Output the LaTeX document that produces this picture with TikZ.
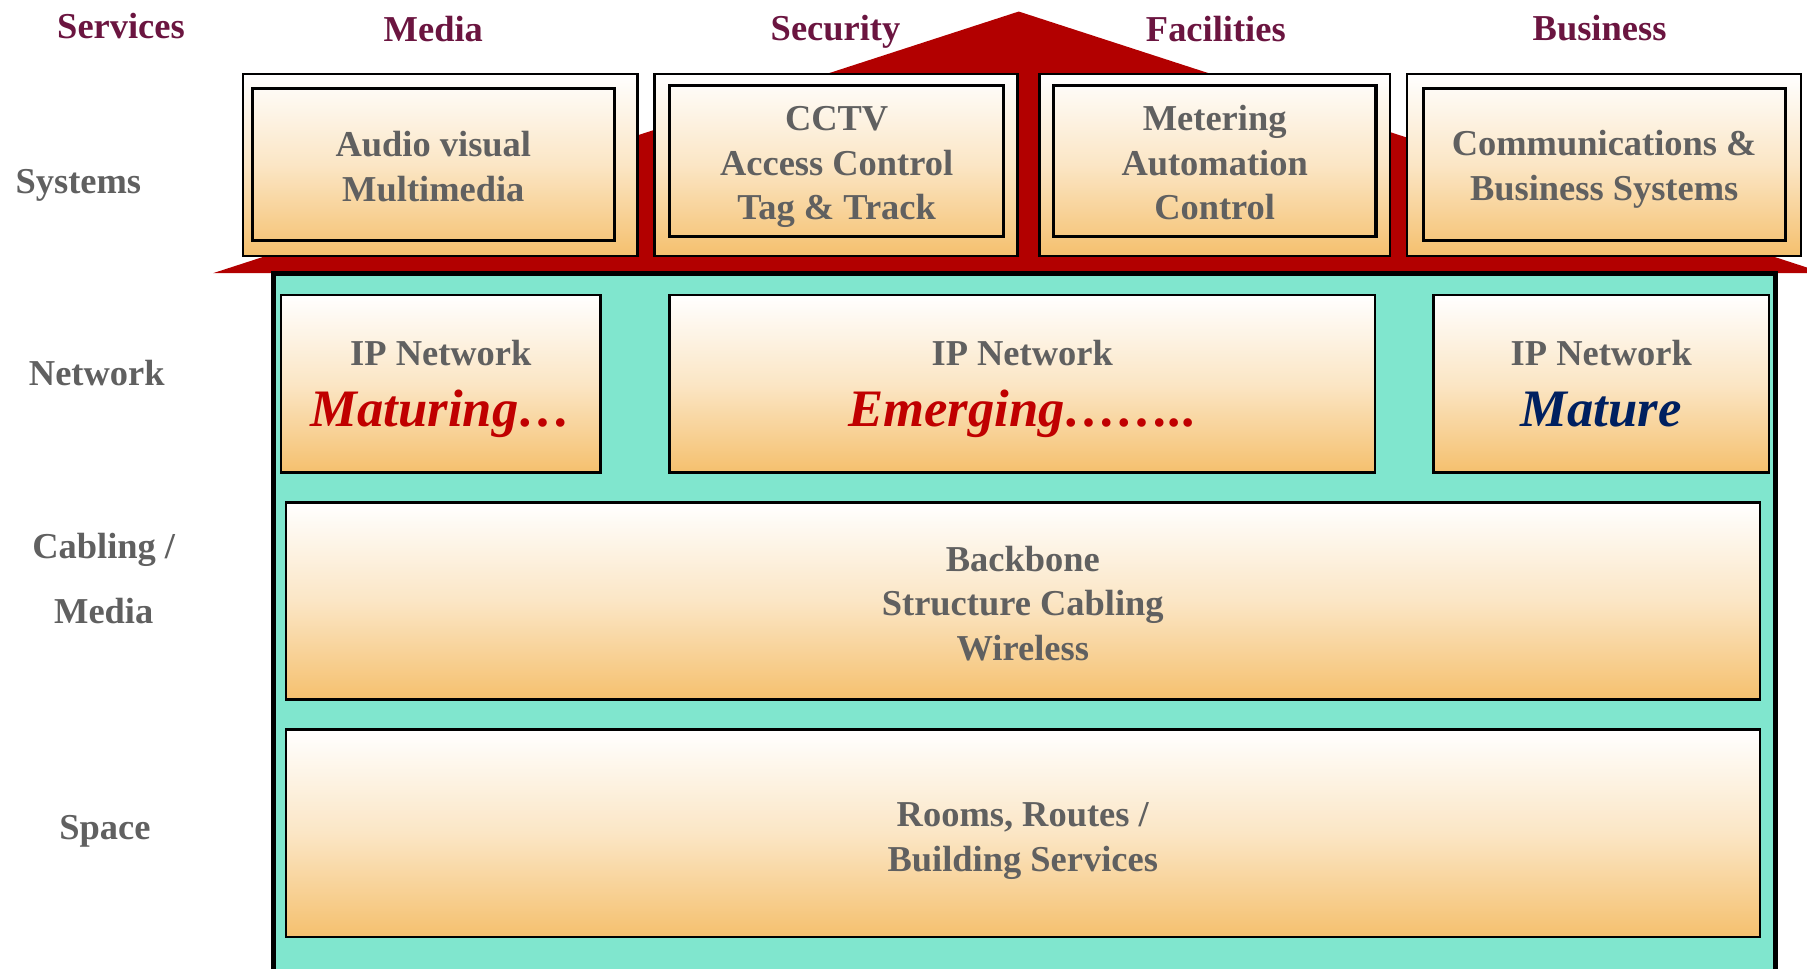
\documentclass[tikz,border=0pt]{standalone}
\usepackage{fontspec}
\setmainfont{Liberation Serif}
\usetikzlibrary{positioning}
\definecolor{roofred}{RGB}{178,0,0}
\definecolor{bodyteal}{RGB}{128,230,206}
\definecolor{boxorange}{RGB}{245,192,110}
\definecolor{greytxt}{RGB}{96,96,96}
\definecolor{svcred}{RGB}{107,21,64}
\definecolor{matred}{RGB}{192,0,0}
\definecolor{matblue}{RGB}{0,32,96}

\begin{document}
\begin{tikzpicture}[
  rowlbl/.style={font=\bfseries\fontsize{9}{16}\selectfont, text=greytxt, align=center},
  svclbl/.style={font=\bfseries\fontsize{9}{11}\selectfont, text=svcred},
  gradbox/.style={draw, line width=0.6pt, top color=white, bottom color=boxorange,
                  middle color=boxorange!40!white, inner sep=0pt},
  sysbox/.style={draw, line width=0.8pt, inner sep=0pt},
  boxtxt/.style={align=center, inner sep=0pt, font=\bfseries\fontsize{9}{11}\selectfont, text=greytxt},
  state/.style={anchor=base, inner sep=0pt, font=\bfseries\itshape\fontsize{13}{15}\selectfont}]
\useasboundingbox (0,0) rectangle (15.68,-8.40);

% roof and building
\fill[roofred] (8.84,-0.10) coordinate (apex) -- (1.85,-2.37) coordinate (eavel)
  -- (15.83,-2.37) coordinate (eaver) -- cycle;
\draw[fill=bodyteal, line width=1.2pt] (2.37,-2.37) rectangle (15.41,-8.60);

% services
\node[svclbl] (services) at (1.05,-0.23) {Services};
\node[svclbl] (smedia) at (3.76,-0.25) {Media};
\node[svclbl] (ssecurity) at (7.25,-0.28) {Security};
\node[svclbl] (sfacilities) at (10.55,-0.25) {Facilities};
\node[svclbl] (sbusiness) at (13.88,-0.24) {Business};

% layers
\node[rowlbl] (systems) at (0.68,-1.61) {Systems};
\node[rowlbl] (network) at (0.84,-3.24) {Network};
\node[rowlbl] (cabling) at (0.90,-5.02) {Cabling /\\Media};
\node[rowlbl] (space) at (0.91,-7.21) {Space};

% systems
\node[gradbox, minimum width=3.42cm, minimum height=1.58cm] (media) at (3.82,-1.43) {};
\node[sysbox, minimum width=3.14cm, minimum height=1.32cm] (avmm) at (3.76,-1.43) {};
\node[boxtxt] (avmmtxt) at (3.76,-1.445) {Audio visual\\Multimedia};
\node[gradbox, minimum width=3.15cm, minimum height=1.58cm] (security) at (7.255,-1.43) {};
\node[sysbox, minimum width=2.90cm, minimum height=1.31cm] (cctv) at (7.26,-1.395) {};
\node[boxtxt] (cctvtxt) at (7.26,-1.452) {CCTV\\Access Control\\Tag \& Track};
\node[gradbox, minimum width=3.04cm, minimum height=1.58cm] (facilities) at (10.54,-1.43) {};
\node[sysbox, minimum width=2.80cm, minimum height=1.31cm] (meter) at (10.54,-1.395) {};
\node[boxtxt] (metertxt) at (10.54,-1.412) {Metering\\Automation\\Control};
\node[gradbox, minimum width=3.42cm, minimum height=1.58cm] (business) at (13.92,-1.43) {};
\node[sysbox, minimum width=3.14cm, minimum height=1.32cm] (comms) at (13.92,-1.43) {};
\node[boxtxt] (commstxt) at (13.92,-1.47) {Communications \&\\Business Systems};

% network
\node[gradbox, minimum width=2.77cm, minimum height=1.54cm] (netl) at (3.825,-3.33) {};
\node[gradbox, minimum width=6.12cm, minimum height=1.54cm] (netm) at (8.87,-3.33) {};
\node[gradbox, minimum width=2.91cm, minimum height=1.54cm] (netr) at (13.895,-3.33) {};
\foreach \n/\x in {netl/3.825, netm/8.87, netr/13.895}
  \node[boxtxt, anchor=base] (\n ip) at (\x,-3.175) {IP Network};
\node[state, text=matred] (maturing) at (3.825,-3.70) {Maturing…};
\node[state, text=matred] (emerging) at (8.87,-3.70) {Emerging……..};
\node[state, text=matblue] (mature) at (13.895,-3.70) {Mature};

% cabling and space
\node[gradbox, minimum width=12.79cm, minimum height=1.71cm] (backbone) at (8.875,-5.215) {};
\node[boxtxt] (backbonetxt) at (8.875,-5.235) {Backbone\\Structure Cabling\\Wireless};
\node[gradbox, minimum width=12.79cm, minimum height=1.80cm] (rooms) at (8.875,-7.23) {};
\node[boxtxt] (roomstxt) at (8.875,-7.30) {Rooms, Routes /\\Building Services};
\end{tikzpicture}
\end{document}
